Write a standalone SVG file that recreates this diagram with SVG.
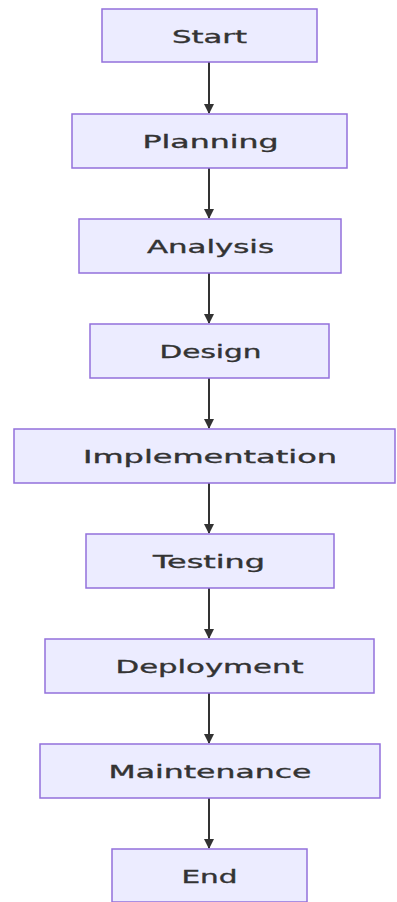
<svg xmlns="http://www.w3.org/2000/svg" width="397" height="902" viewBox="0 0 397 902">
<style>
.n rect{fill:#ECECFF;stroke:#9370DB;stroke-width:1.5}
.n text{font-family:"DejaVu Sans",sans-serif;font-size:18px;fill:#333;stroke:#333;stroke-width:0.35;text-anchor:middle;dominant-baseline:central}
.e line{stroke:#333;stroke-width:2}
</style>
<defs>
<marker id="ah" markerWidth="12" markerHeight="10" refX="9" refY="5" orient="auto" markerUnits="userSpaceOnUse">
<path d="M0,0 L10,5 L0,10 z" fill="#333"/>
</marker>
</defs>
<rect width="397" height="902" fill="#fff"/>
<g class="e">
<line x1="209" y1="62" x2="209" y2="113" marker-end="url(#ah)"/>
<line x1="209" y1="168" x2="209" y2="218" marker-end="url(#ah)"/>
<line x1="209" y1="273" x2="209" y2="323" marker-end="url(#ah)"/>
<line x1="209" y1="378" x2="209" y2="428" marker-end="url(#ah)"/>
<line x1="209" y1="483" x2="209" y2="533" marker-end="url(#ah)"/>
<line x1="209" y1="588" x2="209" y2="638" marker-end="url(#ah)"/>
<line x1="209" y1="693" x2="209" y2="743" marker-end="url(#ah)"/>
<line x1="209" y1="798" x2="209" y2="848" marker-end="url(#ah)"/>
</g>
<g id="start" class="n"><rect x="102" y="9" width="215" height="53"/><text x="209.5" y="36" textLength="75" lengthAdjust="spacingAndGlyphs">Start</text></g>
<g id="planning" class="n"><rect x="72" y="114" width="275" height="54"/><text x="210.5" y="141" textLength="136" lengthAdjust="spacingAndGlyphs">Planning</text></g>
<g id="analysis" class="n"><rect x="79" y="219" width="262" height="54"/><text x="210.5" y="246" textLength="127" lengthAdjust="spacingAndGlyphs">Analysis</text></g>
<g id="design" class="n"><rect x="90" y="324" width="239" height="54"/><text x="210.5" y="351" textLength="102" lengthAdjust="spacingAndGlyphs">Design</text></g>
<g id="implementation" class="n"><rect x="14" y="429" width="381" height="54"/><text x="210" y="456" textLength="254" lengthAdjust="spacingAndGlyphs">Implementation</text></g>
<g id="testing" class="n"><rect x="86" y="534" width="248" height="54"/><text x="209" y="561" textLength="112" lengthAdjust="spacingAndGlyphs">Testing</text></g>
<g id="deployment" class="n"><rect x="45" y="639" width="329" height="54"/><text x="209.5" y="666" textLength="188" lengthAdjust="spacingAndGlyphs">Deployment</text></g>
<g id="maintenance" class="n"><rect x="40" y="744" width="340" height="54"/><text x="210" y="771" textLength="203" lengthAdjust="spacingAndGlyphs">Maintenance</text></g>
<g id="end" class="n"><rect x="112" y="849" width="195" height="53"/><text x="209.5" y="876" textLength="56" lengthAdjust="spacingAndGlyphs">End</text></g>
</svg>
